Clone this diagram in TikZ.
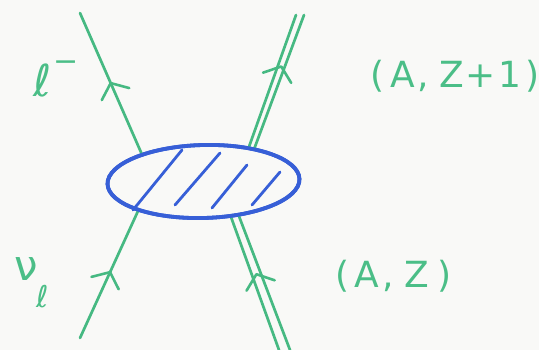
\documentclass[tikz,border=0pt]{standalone}
\usepackage{fontspec}
\setmainfont{DejaVu Sans}
\usetikzlibrary{decorations.markings,calc,shapes.geometric}
\definecolor{lgreen}{RGB}{70,185,130}
\definecolor{tgreen}{RGB}{75,190,135}
\definecolor{eblue}{RGB}{55,95,215}
\definecolor{bgc}{RGB}{249,249,247}
\tikzset{
 fline/.style={draw=lgreen, line width=2.7pt, line cap=round},
 chev/.style={postaction={decorate, decoration={markings, mark=at position #1 with {\draw[lgreen, line width=2.6pt, line cap=round, line join=round] (-12pt,-15pt) -- (0,0) -- (-12pt,15pt);}}}},
 hatch/.style={draw=eblue, line width=2.8pt, line cap=round},
 blobstyle/.style={draw=eblue, line width=3.8pt, ellipse, minimum width=192pt, minimum height=73pt, inner sep=0pt, rotate=1.5},
 lbl/.style={text=tgreen, font=\fontsize{36}{40}\selectfont, inner sep=0pt},
}
\begin{document}
\begin{tikzpicture}[x=1pt,y=-1pt]
\fill[bgc] (0,0) rectangle (539,350);
\useasboundingbox (0,0) rectangle (539,350);
% blob
\node[blobstyle] (blob) at (203.5,181.5) {};
% free ends
\coordinate (ltop) at (80,13);
\coordinate (nbot) at (80,338);
\coordinate (ti) at (296,15);
\coordinate (to) at (304,15);
\coordinate (bi) at (279,350);
\coordinate (bo) at (290,350);
% lepton lines
\draw[fline, chev=0.5] (blob.154) -- (ltop);
\draw[fline, chev=0.52] (nbot) -- (blob.203);
% nucleus lines
\draw[fline] (blob.36) -- (ti);
\draw[fline] (blob.32) -- (to);
\path[chev=0.61] ($(blob.36)!.5!(blob.32)$) -- ($(ti)!.5!(to)$);
\draw[fline] (bi) -- (blob.306);
\draw[fline] (bo) -- (blob.314);
\path[chev=0.57] ($(bi)!.5!(bo)$) -- ($(blob.306)!.5!(blob.314)$);
% hatching
\draw[hatch] (133,210) -- (182,150);
\draw[hatch] (175,205) -- (220,153);
\draw[hatch] (212,208) -- (247,165);
\draw[hatch] (252,205) -- (280,172);
% redraw blob border on top
\node[blobstyle] (blob2) at (blob.center) {};
% labels
\node[lbl, anchor=base west] (lm) at (33,97) {{\fontsize{44}{46}\selectfont ℓ}\kern2pt\raisebox{25pt}{\fontsize{30}{30}\selectfont −}};
\node[lbl, anchor=base west] (nu) at (14,281) {{\fontsize{42}{44}\selectfont ν}\kern-1pt\raisebox{-27pt}{\fontsize{30}{30}\selectfont ℓ}};
\node[lbl, anchor=base west] (fin) at (370,88) {(\kern6pt A\kern3pt,\kern10pt Z\kern2pt+\kern2pt1\kern4pt)};
\node[lbl, anchor=base west] (ini) at (335,288) {(\kern5pt A\kern4pt,\kern10pt Z\kern9pt)};
\end{tikzpicture}
\end{document}
